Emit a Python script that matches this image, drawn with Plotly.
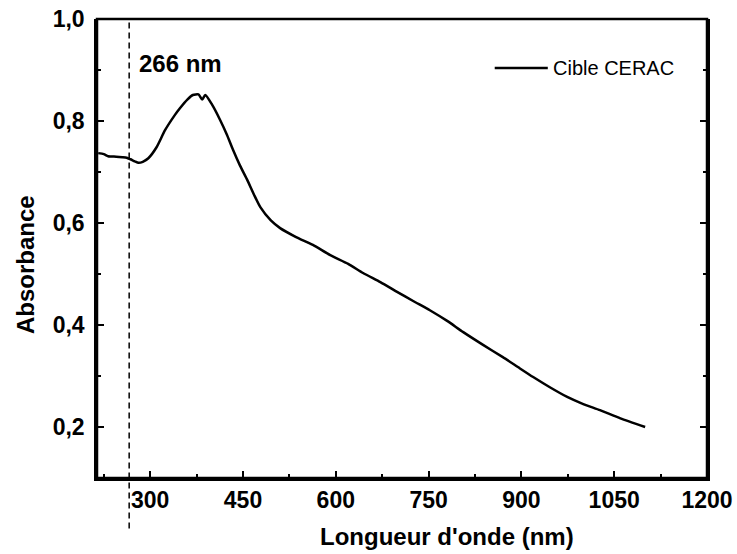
import plotly.graph_objects as go

# values
wavelength = [216, 225, 232, 245, 255, 262, 268, 275, 281, 288, 297, 310, 324, 340, 348,
              360, 369, 378, 384, 389, 400, 413, 424, 434, 445, 457, 468, 478, 495, 510,
              535, 563, 591, 620, 644, 672, 699, 725, 752, 780, 806, 838, 870, 895, 919,
              946, 974, 1000, 1027, 1060, 1100]
absorbance = [0.737, 0.735, 0.731, 0.730, 0.729, 0.728, 0.725, 0.721, 0.718, 0.720, 0.727, 0.748,
              0.782, 0.812, 0.825, 0.842, 0.851, 0.852, 0.842, 0.851, 0.832, 0.802, 0.773,
              0.743, 0.713, 0.684, 0.655, 0.631, 0.605, 0.590, 0.573, 0.557, 0.537, 0.520,
              0.502, 0.484, 0.465, 0.447, 0.429, 0.408, 0.386, 0.361, 0.337, 0.317, 0.298,
              0.278, 0.259, 0.245, 0.233, 0.217, 0.200]
series_name = "Cible CERAC"
marker_nm = 266
x_ticks = [300, 450, 600, 750, 900, 1050, 1200]
y_ticks = [0.2, 0.4, 0.6, 0.8, 1.0]
x_title = "Longueur d'onde (nm)"
y_title = "Absorbance"

bold = dict(color='black', family='Liberation Sans', weight='bold')

fig = go.Figure()

fig.add_trace(go.Scatter(x=wavelength, y=absorbance,
                         mode='lines',
                         name=series_name,
                         showlegend=False,
                         line=dict(color='black', width=2.5, shape='spline', smoothing=0.6)))

# frame around the plot area
fig.add_shape(type='rect', x0=0, x1=1, y0=0, y1=1, xref='paper', yref='paper',
              line=dict(color='black', width=2.5), layer='above')

# dashed marker line at the laser wavelength
fig.add_shape(type='line', x0=marker_nm, x1=marker_nm, xref='x',
              y0=-0.11, y1=1.0, yref='paper',
              line=dict(color='black', width=1.5, dash='6px,4px'))
fig.add_annotation(x=279, y=0.912, xref='x', yref='y', xanchor='left',
                   text=f"{marker_nm} nm", showarrow=False,
                   font=dict(size=24, **bold))

# legend drawn by hand (longer line sample than plotly's own)
fig.add_shape(type='line', x0=0.652, x1=0.739, y0=0.893, y1=0.893,
              xref='paper', yref='paper', line=dict(color='black', width=2.5))
fig.add_annotation(x=0.744, y=0.893, xref='paper', yref='paper',
                   xanchor='left', yanchor='middle', showarrow=False,
                   text=series_name,
                   font=dict(size=20, color='black', family='Liberation Sans'))

# axis titles, placed like in the original (not centred on the plot)
fig.add_annotation(x=0.574, y=-0.1285, xref='paper', yref='paper',
                   xanchor='center', yanchor='middle', showarrow=False,
                   text=x_title, font=dict(size=24, **bold))
fig.add_annotation(x=-0.118, y=0.464, xref='paper', yref='paper',
                   xanchor='center', yanchor='middle', showarrow=False,
                   textangle=-90, text=y_title, font=dict(size=24, **bold))

axis = dict(showline=True, linecolor='black', linewidth=2.5,
            ticks='inside', ticklen=7, tickwidth=2, tickcolor='black',
            showgrid=False, zeroline=False, ticklabeloverflow='allow',
            tickfont=dict(size=23, **bold))
x_minor = dict(ticks='inside', ticklen=4, tickwidth=2, tickcolor='black', dtick=75, tick0=225)

fig.update_xaxes(axis, range=[214, 1200], tickvals=x_ticks, tickformat='d', minor=x_minor)
fig.update_yaxes(axis, range=[0.1, 1.0], tickvals=y_ticks, tickformat='.1f',
                 mirror='allticks', ticklabelstandoff=5,
                 minor=dict(ticks='inside', ticklen=4, tickwidth=2, tickcolor='black', dtick=0.1, tick0=0.1))

# top edge ticks from a second x axis
fig.update_layout(xaxis2=dict(axis, overlaying='x', side='top', anchor='y', matches='x',
                              range=[214, 1200], tickvals=x_ticks, showticklabels=False,
                              minor=x_minor))

fig.update_layout(width=737, height=554,
                  margin=dict(l=97, r=30, t=19, b=76, autoexpand=False),
                  separators=', ',
                  plot_bgcolor='white', paper_bgcolor='white',
                  showlegend=False)

# drop the browser's default 8px body margin so the figure fills the window
fig.write_html("out.html", config=dict(displayModeBar=False),
               post_script="document.body.style.margin='0';")
